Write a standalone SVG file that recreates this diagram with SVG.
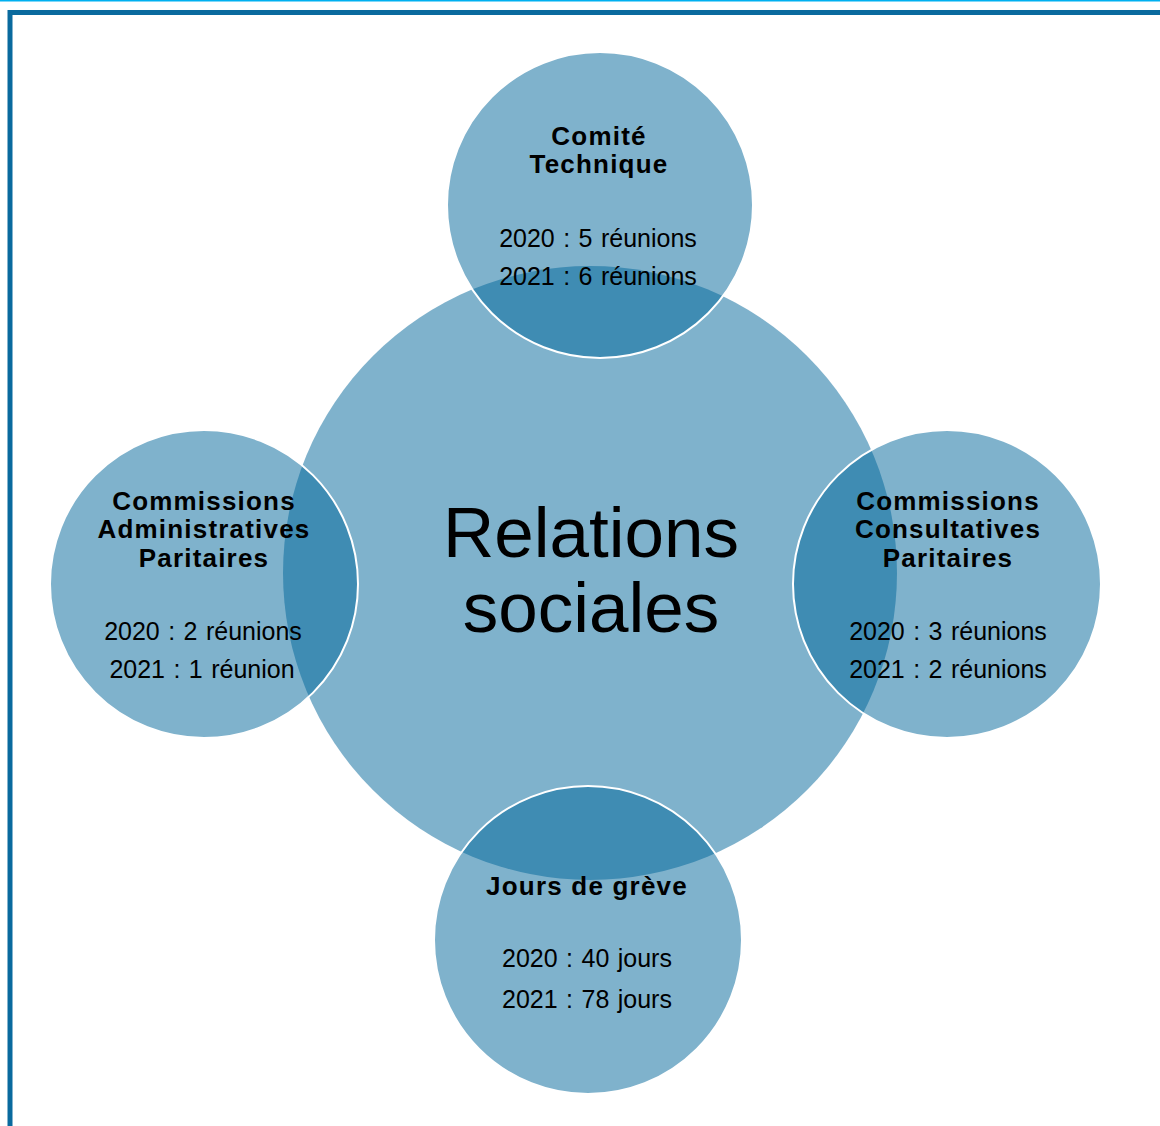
<svg xmlns="http://www.w3.org/2000/svg" width="1160" height="1126" viewBox="0 0 1160 1126">
<style>
.c{fill:#006599;fill-opacity:0.5}
.s{fill:#006599;fill-opacity:0.5;stroke:#ffffff;stroke-width:2}
.t{font-family:"Liberation Sans",Arial,sans-serif;font-weight:bold;font-size:26px;letter-spacing:1.2px;fill:#000;text-anchor:middle}
.d{font-family:"Liberation Sans",Arial,sans-serif;font-size:25px;word-spacing:1.5px;fill:#000;text-anchor:middle}
.big{font-family:"Liberation Sans",Arial,sans-serif;font-size:71px;fill:#000;text-anchor:middle}
</style>
<rect x="0" y="0" width="1160" height="1126" fill="#ffffff"/>
<rect x="0" y="0" width="1160" height="1.5" fill="#00B0F0"/>
<path d="M10 1126 V12.5 H1160" fill="none" stroke="#0A6A9E" stroke-width="5"/>
<g id="connectors"></g>
<g id="center">
<circle class="c" cx="590" cy="573" r="307"/>
</g>
<g id="top">
<circle class="s" cx="600" cy="205" r="153"/>
<text class="t" x="599" y="145">Comité</text>
<text class="t" x="599" y="173">Technique</text>
<text class="d" x="598" y="247">2020 : 5 réunions</text>
<text class="d" x="598" y="285">2021 : 6 réunions</text>
</g>
<g id="left">
<circle class="s" cx="204" cy="584" r="154"/>
<text class="t" x="204" y="510">Commissions</text>
<text class="t" x="204" y="538">Administratives</text>
<text class="t" x="204" y="567">Paritaires</text>
<text class="d" x="203" y="640">2020 : 2 réunions</text>
<text class="d" x="202" y="678">2021 : 1 réunion</text>
</g>
<g id="right">
<circle class="s" cx="947" cy="584" r="154"/>
<text class="t" x="948" y="510">Commissions</text>
<text class="t" x="948" y="538">Consultatives</text>
<text class="t" x="948" y="567">Paritaires</text>
<text class="d" x="948" y="640">2020 : 3 réunions</text>
<text class="d" x="948" y="678">2021 : 2 réunions</text>
</g>
<g id="bottom">
<circle class="s" cx="588" cy="940" r="154"/>
<text class="t" x="587" y="895">Jours de grève</text>
<text class="d" x="587" y="967">2020 : 40 jours</text>
<text class="d" x="587" y="1008">2021 : 78 jours</text>
</g>
<g id="label">
<text class="big" x="591" y="557">Relations</text>
<text class="big" x="591" y="632">sociales</text>
</g>
</svg>
